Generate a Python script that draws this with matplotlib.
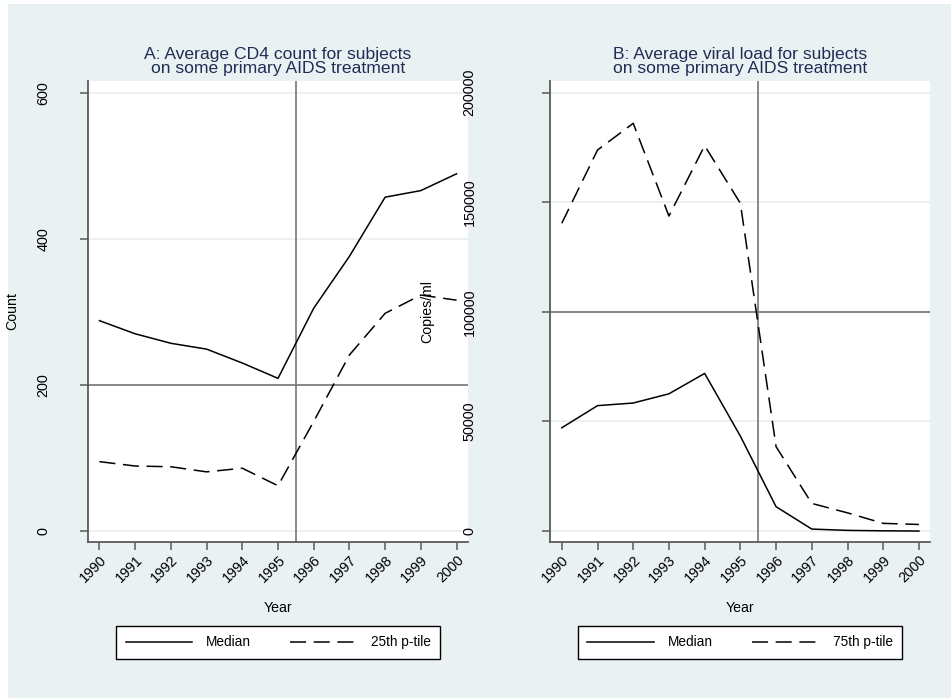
import matplotlib
matplotlib.use("Agg")
import matplotlib.pyplot as plt
from matplotlib.patches import Rectangle

plt.rcParams['font.family'] = ['Liberation Sans', 'DejaVu Sans']

years = [1990, 1991, 1992, 1993, 1994, 1995, 1996, 1997, 1998, 1999, 2000]
cd4_median = [288, 270, 257, 249, 230, 209, 305, 376, 457, 466, 489]
cd4_p25 = [95, 89, 88, 81, 86, 62, 150, 241, 298, 323, 316]
vl_median = [47100, 57200, 58400, 62600, 71900, 43300, 11100, 900, 300, 100, 0]
vl_p75 = [140400, 173800, 186000, 143700, 175800, 149500, 38500, 12600, 8300, 3500, 3000]

cd4_ticks = [0, 200, 400, 600]
vl_ticks = [0, 50000, 100000, 150000, 200000]
cd4_ref = 200
vl_ref = 100000
treatment_year = 1995.5

W, H = 951, 698
BG = '#EAF1F3'
SPINE = '#5A5A5A'
REF = '#808080'
GRID = '#E6EEF1'
TITLE = '#1F2D55'
DASH = (0, (10.5, 5))

fig = plt.figure(figsize=(W / 100, H / 100), dpi=100)
fig.patch.set_facecolor('white')
fig.patches.append(Rectangle((8 / W, 0), 1 - 8 / W, 1 - 4 / H,
                             transform=fig.transFigure, facecolor=BG,
                             edgecolor='none', zorder=-10))


def px_axes(x0, y0, x1, y1):
    return fig.add_axes([x0 / W, 1 - y1 / H, (x1 - x0) / W, (y1 - y0) / H])


def style(ax, ticks, ylim, ref, title, ylabel, ylabel_x, ypad):
    ax.set_facecolor('white')
    for s in ('top', 'right'):
        ax.spines[s].set_visible(False)
    for s in ('left', 'bottom'):
        ax.spines[s].set_color(SPINE)
        ax.spines[s].set_linewidth(1.3)
    ax.set_ylim(*ylim)
    ax.set_xticks(years)
    ax.set_xticklabels([str(y) for y in years], rotation=45, ha='right',
                       rotation_mode='anchor')
    ax.set_yticks(ticks)
    ax.set_yticklabels([str(t) for t in ticks], rotation=90, va='center')
    ax.tick_params(axis='x', length=6, width=1.1, color=SPINE, pad=2,
                   labelsize=10.3)
    ax.tick_params(axis='y', length=6, width=1.1, color=SPINE, pad=ypad,
                   labelsize=10.4)
    for t in ticks:
        ax.axhline(t, color=GRID, lw=1.2, zorder=0)
    ax.axhline(ref, color=REF, lw=1.3, zorder=1)
    ax.axvline(treatment_year, color=REF, lw=1.3, zorder=1)
    ax.set_title(title, fontsize=12.6, color=TITLE, pad=6, linespacing=0.88)
    ax.set_xlabel('Year', fontsize=10.2)
    ax.xaxis.set_label_coords(0.5, -0.143)
    ax.xaxis.label.set_va('center')
    ax.set_ylabel(ylabel, fontsize=10.2)
    ax.yaxis.set_label_coords(ylabel_x, 0.5)
    ax.yaxis.label.set_va('center')
    leg = ax.legend(ncol=2, loc='center', bbox_to_anchor=(0.5, -0.218),
                    frameon=True, fancybox=False, edgecolor='black',
                    facecolor='white', framealpha=1.0,
                    fontsize=9.8, handlelength=4.9, handletextpad=1.0,
                    columnspacing=2.9, borderpad=0.72)
    leg.get_frame().set_linewidth(1.0)


axA = px_axes(88, 81, 468, 542)
axA.plot(years, cd4_median, color='black', lw=1.1, label='Median')
axA.plot(years, cd4_p25, color='black', lw=1.1, ls=DASH, label='25th p-tile')
style(axA, cd4_ticks, (-15, 616), cd4_ref,
      'A: Average CD4 count for subjects\non some primary AIDS treatment',
      'Count', -0.199, 21)
axA.set_xlim(1989.68, 2000.32)

axB = px_axes(550, 81, 930, 542)
axB.plot(years, vl_median, color='black', lw=1.1, label='Median')
axB.plot(years, vl_p75, color='black', lw=1.1, ls=DASH, label='75th p-tile')
style(axB, vl_ticks, (-5000, 205300), vl_ref,
      'B: Average viral load for subjects\non some primary AIDS treatment',
      'Copies/ml', -0.322, 47)
axB.set_xlim(1989.67, 2000.31)

fig.savefig('out.png', dpi=100, facecolor=fig.get_facecolor())
